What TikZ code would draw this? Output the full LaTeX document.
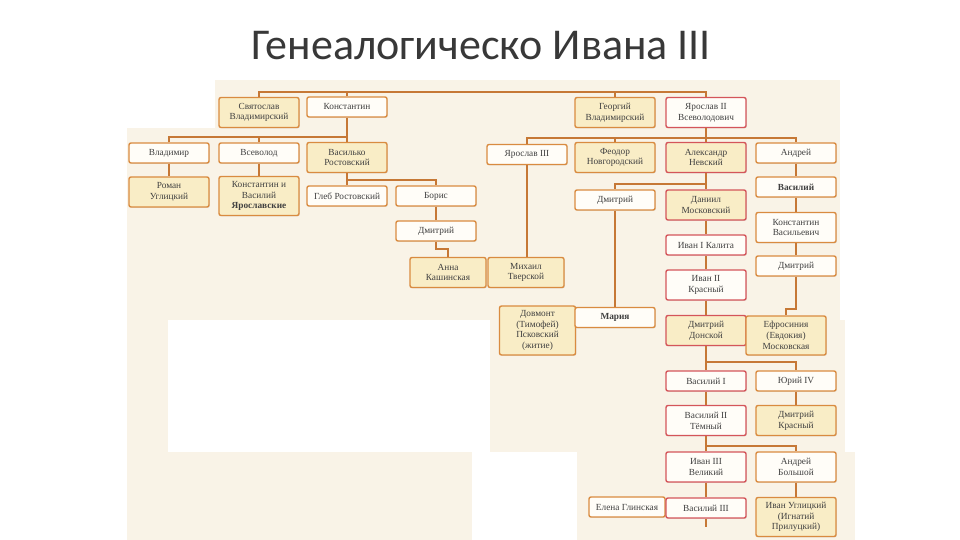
\documentclass[tikz,border=0pt]{standalone}
\usepackage{fontspec}
\setmainfont{Liberation Serif}
\newfontfamily\titulo{Carlito}
\usetikzlibrary{positioning, shadows}
\definecolor{papel}{HTML}{F9F3E7}
\definecolor{borde}{HTML}{D98B40}
\definecolor{rojo}{HTML}{D4555A}
\definecolor{linea}{HTML}{C67836}
\definecolor{crema}{HTML}{FFFDF8}
\definecolor{oro}{HTML}{F9EDC6}
\tikzset{
    persona/.style={draw=borde, fill=crema, rounded corners=2pt, line width=1.4pt, align=center,
        minimum width=80pt, inner sep=1pt, text=black!75, font=\fontsize{9.3}{10.8}\selectfont,
        drop shadow={opacity=0.18, shadow xshift=0.8pt, shadow yshift=-0.8pt}},
    dorado/.style={fill=oro},
    linaje/.style={draw=rojo},
    angosta/.style={minimum width=76pt},
    uno/.style={minimum height=20pt},
    dos/.style={minimum height=30pt},
    tres/.style={minimum height=39pt},
    cuatro/.style={minimum height=49pt},
    rama/.style={draw=linea, line width=1.5pt},
}

\begin{document}
\begin{tikzpicture}[x=1pt, y=-1pt]
\useasboundingbox (0,0) rectangle (960,540);
% paper
\fill[papel] (215,80) rectangle (840,128);
\fill[papel] (127,128) rectangle (840,320);
\fill[papel] (127,320) rectangle (168,540);
\fill[papel] (168,452) rectangle (472,540);
\fill[papel] (490,320) rectangle (845,452);
\fill[papel] (577,452) rectangle (855,540);
\node[text=black!78, font=\titulo\fontsize{44}{50}\selectfont] (tit) at (481,46) {Генеалогическо Ивана III};
% row 1
\node[persona, dorado, dos] (svyat) at (259,112.5) {Святослав\\Владимирский};
\node[persona, uno] (konst) at (347,107) {Константин};
\node[persona, dorado, dos] (georg) at (615,112.5) {Георгий\\Владимирский};
\node[persona, linaje, dos] (yar2) at (706,112.5) {Ярослав II\\Всеволодович};
% row 2
\node[persona, uno] (vlad) at (169,153) {Владимир};
\node[persona, uno] (vsev) at (259,153) {Всеволод};
\node[persona, dorado, dos] (vasilko) at (347,157.5) {Василько\\Ростовский};
\node[persona, uno] (yar3) at (527,154.5) {Ярослав III};
\node[persona, dorado, dos] (feodor) at (615,157.5) {Феодор\\Новгородский};
\node[persona, linaje, dorado, dos] (alex) at (706,157.5) {Александр\\Невский};
\node[persona, uno] (andrey) at (796,153) {Андрей};
% row 3
\node[persona, dorado, dos] (roman) at (169,192) {Роман\\Углицкий};
\node[persona, dorado, tres] (kiv) at (259,196) {Константин и\\Василий\\\textbf{Ярославские}};
\node[persona, uno] (gleb) at (347,196) {Глеб Ростовский};
\node[persona, uno] (boris) at (436,196) {Борис};
\node[persona, uno] (dmitr1) at (615,200) {Дмитрий};
\node[persona, linaje, dorado, dos] (daniil) at (706,205) {Даниил\\Московский};
\node[persona, uno] (vasiliy) at (796,187) {\textbf{Василий}};
% row 4
\node[persona, uno] (dmitr2) at (436,231) {Дмитрий};
\node[persona, dos] (konstv) at (796,227.5) {Константин\\Васильевич};
\node[persona, linaje, uno] (ivan1) at (706,245) {Иван I Калита};
% row 5
\node[persona, dorado, angosta, dos] (anna) at (448,272.5) {Анна\\Кашинская};
\node[persona, dorado, angosta, dos] (mikhail) at (526,272.5) {Михаил\\Тверской};
\node[persona, uno] (dmitr3) at (796,266) {Дмитрий};
\node[persona, linaje, dos] (ivan2) at (706,285) {Иван II\\Красный};
% row 6
\node[persona, dorado, angosta, cuatro] (dovmont) at (537.5,330.5) {Довмонт\\(Тимофей)\\Псковский\\(житие)};
\node[persona, uno] (maria) at (615,317.5) {\textbf{Мария}};
\node[persona, linaje, dorado, dos] (donskoy) at (706,330.5) {Дмитрий\\Донской};
\node[persona, dorado, tres] (efros) at (786,335.5) {Ефросиния\\(Евдокия)\\Московская};
% rows 7-10
\node[persona, linaje, uno] (vas1) at (706,381) {Василий I};
\node[persona, uno] (yuri) at (796,381) {Юрий IV};
\node[persona, linaje, dos] (vas2) at (706,420.5) {Василий II\\Тёмный};
\node[persona, dorado, dos] (dkrasny) at (796,420.5) {Дмитрий\\Красный};
\node[persona, linaje, dos] (ivan3) at (706,467) {Иван III\\Великий};
\node[persona, dos] (andreyb) at (796,467) {Андрей\\Большой};
\node[persona, angosta, uno] (elena) at (627,507) {Елена Глинская};
\node[persona, linaje, uno] (vas3) at (706,508) {Василий III};
\node[persona, dorado, tres] (ivanu) at (796,517) {Иван Углицкий\\(Игнатий\\Прилуцкий)};
% bus lines
\coordinate (bus0) at (0,92);
\coordinate (bus1) at (0,137);
\coordinate (bus2) at (0,138);
\coordinate (bus3) at (0,180);
\coordinate (bus4) at (0,184);
\coordinate (codo1) at (0,249);
\coordinate (codo2) at (0,309);
\coordinate (bus5) at (0,362);
\coordinate (bus6) at (0,446);
\coordinate (cola) at (706,527);
% connectors
\draw[rama] (svyat.north) -- (svyat.north |- bus0) -- (yar2.north |- bus0) -- (yar2.north);
\draw[rama] (konst.north) -- (konst.north |- bus0);
\draw[rama] (georg.north) -- (georg.north |- bus0);
\draw[rama] (konst.south) -- (vasilko.north);
\draw[rama] (vlad.north) -- (vlad.north |- bus1) -- (konst.south |- bus1);
\draw[rama] (vsev.north) -- (vsev.north |- bus1);
\draw[rama] (yar2.south) -- (alex.north);
\draw[rama] (yar3.north) -- (yar3.north |- bus2) -- (andrey.north |- bus2) -- (andrey.north);
\draw[rama] (feodor.north) -- (feodor.north |- bus2);
\draw[rama] (vlad) -- (roman);
\draw[rama] (vsev) -- (kiv);
\draw[rama] (vasilko.south) -- (gleb.north);
\draw[rama] (vasilko.south |- bus3) -| (boris.north);
\draw[rama] (alex.south) -- (daniil.north);
\draw[rama] (alex.south |- bus4) -| (dmitr1.north);
\draw[rama] (andrey) -- (vasiliy);
\draw[rama] (boris) -- (dmitr2);
\draw[rama] (vasiliy) -- (konstv);
\draw[rama] (daniil) -- (ivan1);
\draw[rama] (dmitr2.south) -- (dmitr2.south |- codo1) -| (anna.north);
\draw[rama] (yar3.south) -- (yar3.south |- mikhail.north);
\draw[rama] (konstv) -- (dmitr3);
\draw[rama] (ivan1) -- (ivan2);
\draw[rama] (dmitr1.south) -- (maria.north);
\draw[rama] (ivan2) -- (donskoy);
\draw[rama] (dmitr3.south) -- (dmitr3.south |- codo2) -| (efros.north);
\draw[rama] (donskoy.south) -- (vas1.north);
\draw[rama] (donskoy.south |- bus5) -| (yuri.north);
\draw[rama] (vas1) -- (vas2);
\draw[rama] (yuri) -- (dkrasny);
\draw[rama] (vas2.south) -- (ivan3.north);
\draw[rama] (vas2.south |- bus6) -| (andreyb.north);
\draw[rama] (ivan3) -- (vas3);
\draw[rama] (andreyb) -- (ivanu);
\draw[rama] (vas3.south) -- (cola);
\end{tikzpicture}
\end{document}
